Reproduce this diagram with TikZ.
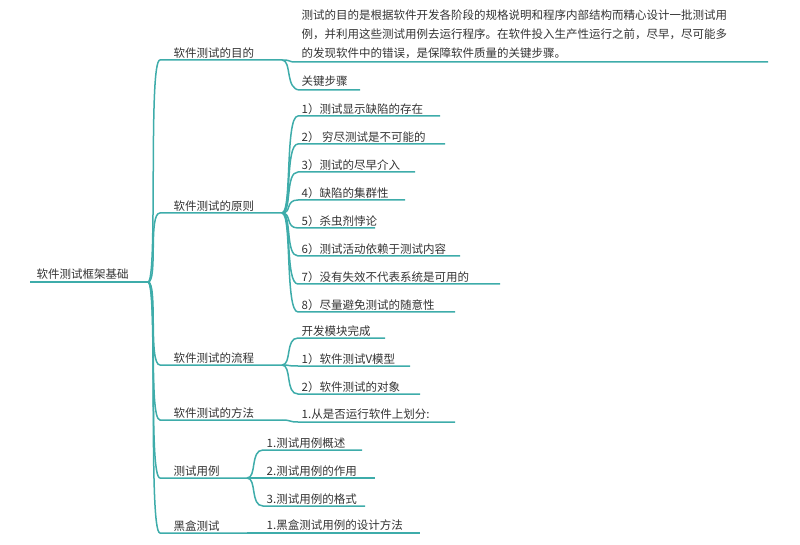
\documentclass[tikz,border=0pt]{standalone}
\usepackage{fontspec}
\newfontfamily\cjk{Noto Sans CJK SC}
\definecolor{tealc}{RGB}{62,172,170}
\tikzset{br/.style={draw=tealc, line width=1.5pt},
lab/.style={anchor=south west, inner sep=1.5pt, font=\cjk\fontsize{11.5}{19}\selectfont, text=black!80}}
\begin{document}
\begin{tikzpicture}[x=1pt,y=1pt]
\useasboundingbox (0,0) rectangle (800,544);
\coordinate (r0) at (30,262);
\coordinate (rb) at (148,262);
\node[lab] (root) at (35,263) {软件测试框架基础};
\draw[br] (r0) -- (rb);
% level 1
\foreach \n/\y/\e/\t in {a/484/282/软件测试的目的, b/331/282/软件测试的原则, c/179/282/软件测试的流程, d/124/282/软件测试的方法, e/66/247/测试用例, f/11/247/黑盒测试}{
  \coordinate (\n s) at (160,\y);
  \coordinate (\n e) at (\e,\y);
  \node[lab] (\n) at (172,\y) {\t};
  \draw[br] (rb) .. controls (158,262) and (148,\y) .. (\n s) -- (\n e);
}
% children of a
\node[lab,align=left] (a1) at (300,484) {测试的目的是根据软件开发各阶段的规格说明和程序内部结构而精心设计一批测试用\\例，并利用这些测试用例去运行程序。在软件投入生产性运行之前，尽早，尽可能多\\的发现软件中的错误，是保障软件质量的关键步骤。};
\coordinate (a1e) at (768,482);
\draw[br] (ae) .. controls (292,484) and (288,482) .. (295,482) -- (a1e);
\node[lab] (a2) at (300,456) {关键步骤};
\coordinate (a2e) at (360,454);
\draw[br] (ae) .. controls (292,484) and (285,454) .. (300,454) -- (a2e);
% children of b
\foreach \n/\y/\l/\t in {b1/428/440/1）测试显示缺陷的存在, b2/400/445/2）\ 穷尽测试是不可能的, b3/372/415/3）测试的尽早介入, b4/344/405/4）缺陷的集群性, b5/316/375/5）杀虫剂悖论, b6/288/460/6）测试活动依赖于测试内容, b7/260/500/7）没有失效不代表系统是可用的, b8/232/455/8）尽量避免测试的随意性}{
  \coordinate (\n e) at (\l,\y);
  \node[lab] (\n) at (300,\y) {\t};
  \draw[br] (be) .. controls (292,331) and (285,\y) .. (298,\y) -- (\n e);
}
% children of c
\foreach \n/\y/\l/\t in {c1/206/385/开发模块完成, c2/178/410/1）软件测试V模型, c3/150/420/2）软件测试的对象}{
  \coordinate (\n e) at (\l,\y);
  \node[lab] (\n) at (300,\y) {\t};
  \draw[br] (ce) .. controls (292,179) and (285,\y) .. (298,\y) -- (\n e);
}
\coordinate (d1e) at (455,122);
\node[lab] (d1) at (300,123) {1.从是否运行软件上划分:};
\draw[br] (de) .. controls (292,124) and (288,122) .. (298,122) -- (d1e);
% children of e
\foreach \n/\y/\l/\t in {e1/94/362/1.测试用例概述, e2/66/375/2.测试用例的作用, e3/38/365/3.测试用例的格式}{
  \coordinate (\n e) at (\l,\y);
  \node[lab] (\n) at (265,\y) {\t};
  \draw[br] (ee) .. controls (257,66) and (250,\y) .. (263,\y) -- (\n e);
}
\coordinate (f1e) at (420,11);
\node[lab] (f1) at (265,12) {1.黑盒测试用例的设计方法};
\draw[br] (fe) .. controls (257,11) and (255,11) .. (263,11) -- (f1e);
\end{tikzpicture}
\end{document}
